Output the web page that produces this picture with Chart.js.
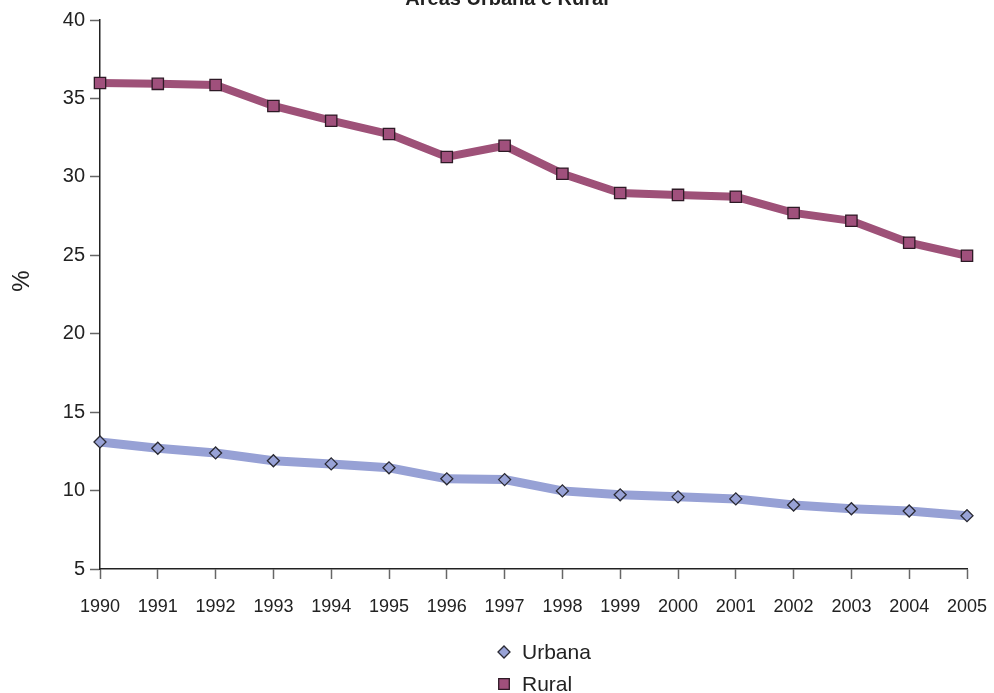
<!DOCTYPE html>
<html>
<head>
<meta charset="utf-8">
<script src="https://cdn.jsdelivr.net/npm/chart.js@4/dist/chart.umd.min.js"></script>
<style>
  html, body { margin: 0; padding: 0; background: #fff; }
  #wrap { width: 994px; height: 693px; position: relative; }
</style>
</head>
<body>
<div id="wrap"><canvas id="c" width="994" height="693"></canvas></div>
<script>
const titleText = 'Áreas Urbana e Rural';
const yAxisTitle = '%';
const years = ['1990','1991','1992','1993','1994','1995','1996','1997','1998','1999','2000','2001','2002','2003','2004','2005'];
const urbana = [13.1, 12.7, 12.4, 11.9, 11.7, 11.45, 10.75, 10.7, 9.98, 9.73, 9.6, 9.47, 9.08, 8.84, 8.7, 8.4];
const rural = [35.98, 35.93, 35.86, 34.52, 33.58, 32.73, 31.27, 31.98, 30.2, 28.97, 28.85, 28.73, 27.7, 27.2, 25.8, 24.97];
const yTicks = [5, 10, 15, 20, 25, 30, 35, 40];

const FONT = "'Liberation Sans', Arial, Helvetica, sans-serif";
const urbanaColor = '#97a1d5';
const ruralColor = '#9e5178';

const textPlugin = {
  id: 'extraText',
  afterDraw(chart) {
    const ctx = chart.ctx;
    ctx.save();
    ctx.font = 'bold 20px ' + FONT;
    ctx.fillStyle = '#222';
    ctx.textAlign = 'center';
    ctx.textBaseline = 'alphabetic';
    ctx.fillText(titleText, 507, 5);
    ctx.translate(22, 281);
    ctx.rotate(-Math.PI / 2);
    ctx.font = '24px ' + FONT;
    ctx.textBaseline = 'middle';
    ctx.fillText(yAxisTitle, 0, 0);
    ctx.restore();
  }
};

const legendPlugin = {
  id: 'vLegend',
  afterDraw(chart) {
    const ctx = chart.ctx;
    ctx.save();
    ctx.font = '21px ' + FONT;
    ctx.textAlign = 'left';
    ctx.textBaseline = 'middle';
    const rows = [652, 684];
    chart.data.datasets.forEach((ds, i) => {
      const y = rows[i];
      ctx.fillStyle = ds.pointBackgroundColor;
      ctx.strokeStyle = ds.pointBorderColor;
      ctx.lineWidth = 1.3;
      Chart.helpers.drawPoint(ctx, { pointStyle: ds.pointStyle, radius: ds.pointStyle === 'rect' ? 7.5 : 6, rotation: 0, borderWidth: 1.3 }, 504, y);
      ctx.fillStyle = '#222';
      ctx.fillText(ds.label, 522, y + 1);
    });
    ctx.restore();
  }
};

new Chart(document.getElementById('c'), {
  type: 'line',
  data: {
    labels: years,
    datasets: [
      {
        label: 'Urbana',
        data: urbana,
        borderColor: urbanaColor,
        borderWidth: 9,
        pointStyle: 'rectRot',
        pointRadius: 6,
        pointBackgroundColor: '#98a2d6',
        pointBorderColor: '#2a2a33',
        pointBorderWidth: 1.3,
        tension: 0,
        order: 2
      },
      {
        label: 'Rural',
        data: rural,
        borderColor: ruralColor,
        borderWidth: 8,
        pointStyle: 'rect',
        pointRadius: 8,
        pointBackgroundColor: '#a0507c',
        pointBorderColor: '#2e1a26',
        pointBorderWidth: 1.3,
        tension: 0,
        order: 1
      }
    ]
  },
  options: {
    responsive: false,
    animation: false,
    devicePixelRatio: 1,
    layout: { padding: { top: 20, right: 27, left: 0, bottom: 0 } },
    plugins: {
      legend: { display: false },
      title: { display: false },
      tooltip: { enabled: false }
    },
    scales: {
      x: {
        type: 'category',
        offset: false,
        grid: { display: true, drawOnChartArea: false, drawTicks: true, tickLength: 10, tickColor: '#666', tickWidth: 1.5 },
        border: { display: true, color: '#222', width: 1.5 },
        ticks: { color: '#222', font: { family: FONT, size: 18 }, padding: 17, maxRotation: 0, autoSkip: false },
        afterFit(scale) { scale.height = 124; scale.paddingLeft = 0; scale.paddingRight = 0; }
      },
      y: {
        min: 5, max: 40,
        afterBuildTicks(scale) { scale.ticks = yTicks.map(v => ({ value: v })); },
        grid: { display: true, drawOnChartArea: false, drawTicks: true, tickLength: 10, tickColor: '#666', tickWidth: 1.5 },
        border: { display: true, color: '#222', width: 1.5 },
        ticks: { color: '#222', font: { family: FONT, size: 20 }, padding: 5 },
        afterFit(scale) { scale.width = 100; scale.paddingTop = 0; scale.paddingBottom = 0; }
      }
    }
  },
  plugins: [textPlugin, legendPlugin]
});
</script>
</body>
</html>
